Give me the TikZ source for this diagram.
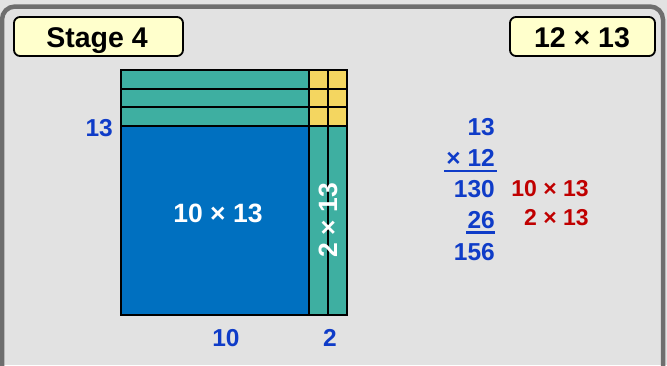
\documentclass[tikz,border=0pt]{standalone}
\usepackage{fontspec}
\setmainfont{Liberation Sans}
\definecolor{bg}{HTML}{E2E2E2}
\definecolor{frame}{HTML}{6E6E6E}
\definecolor{teal}{HTML}{3EAFA1}
\definecolor{bigblue}{HTML}{0070C0}
\definecolor{gold}{HTML}{F4D660}
\definecolor{txtblue}{HTML}{0F3CC8}
\definecolor{txtred}{HTML}{C00000}
\definecolor{boxfill}{HTML}{FFFFCC}
\begin{document}
\begin{tikzpicture}[x=1pt,y=-1pt,
  cell/.style={draw=black,line width=2pt},
  titlebox/.style={draw=black,line width=1.8pt,fill=boxfill,rounded corners=6pt},
  bluenum/.style={text=txtblue,font=\fontsize{24.5}{24.5}\selectfont\bfseries,inner sep=0pt},
  rednum/.style={text=txtred,font=\fontsize{23}{23}\selectfont\bfseries,inner sep=0pt},
  whitenum/.style={text=white,font=\fontsize{26.5}{26.5}\selectfont\bfseries,inner sep=0pt},
  titletext/.style={text=black,font=\fontsize{28.5}{28.5}\selectfont\bfseries,inner sep=0pt},
  uline/.style={draw=txtblue,line width=2.6pt}]
\useasboundingbox (0,0) rectangle (667,365);
\fill[bg] (0,0) rectangle (667,365);
% outer frame
\draw[frame,line width=4.5pt,rounded corners=13pt] (2,400) -- (2,6.5) -- (663,6.5) -- (663,400);
% title boxes
\draw[titlebox] (14,17) rectangle (183,56);
\node[titletext,anchor=base] (stage) at (97,47) {Stage 4};
\draw[titlebox] (510,17) rectangle (655,56);
\node[titletext,anchor=base] (prob) at (582,47) {12 × 13};
% grid
\fill[bigblue] (121,126) rectangle (309,315);
\fill[teal] (121,70) rectangle (309,126);
\fill[teal] (309,126) rectangle (347,315);
\fill[gold] (309,70) rectangle (347,126);
\foreach \yy in {88.7,107.3,126} \draw[cell] (121,\yy) -- (347,\yy);
\foreach \xx in {309,328} \draw[cell] (\xx,70) -- (\xx,315);
\draw[cell] (121,70) rectangle (347,315);
% inner labels
\node[whitenum,anchor=base] (big) at (218,222) {10 × 13};
\node[whitenum,rotate=90] (side) at (328,220) {2 × 13};
% axis labels
\node[bluenum,anchor=base east] (l13) at (113,136) {13};
\node[bluenum,anchor=base] (l10) at (226,346) {10};
\node[bluenum,anchor=base] (l2) at (330,346) {2};
% column multiplication
\node[bluenum,anchor=base east] (a) at (495,135) {13};
\node[bluenum,anchor=base east] (b) at (495,166) {× 12};
\node[bluenum,anchor=base east] (c) at (495,197) {130};
\node[bluenum,anchor=base east] (d) at (495,228) {26};
\node[bluenum,anchor=base east] (e) at (495,260) {156};
\draw[uline] (444,171) -- (497,171);
\draw[uline] (466,232.5) -- (495,232.5);
\node[rednum,anchor=base east] (r1) at (589,196) {10 × 13};
\node[rednum,anchor=base east] (r2) at (589,225) {2 × 13};
\end{tikzpicture}
\end{document}
